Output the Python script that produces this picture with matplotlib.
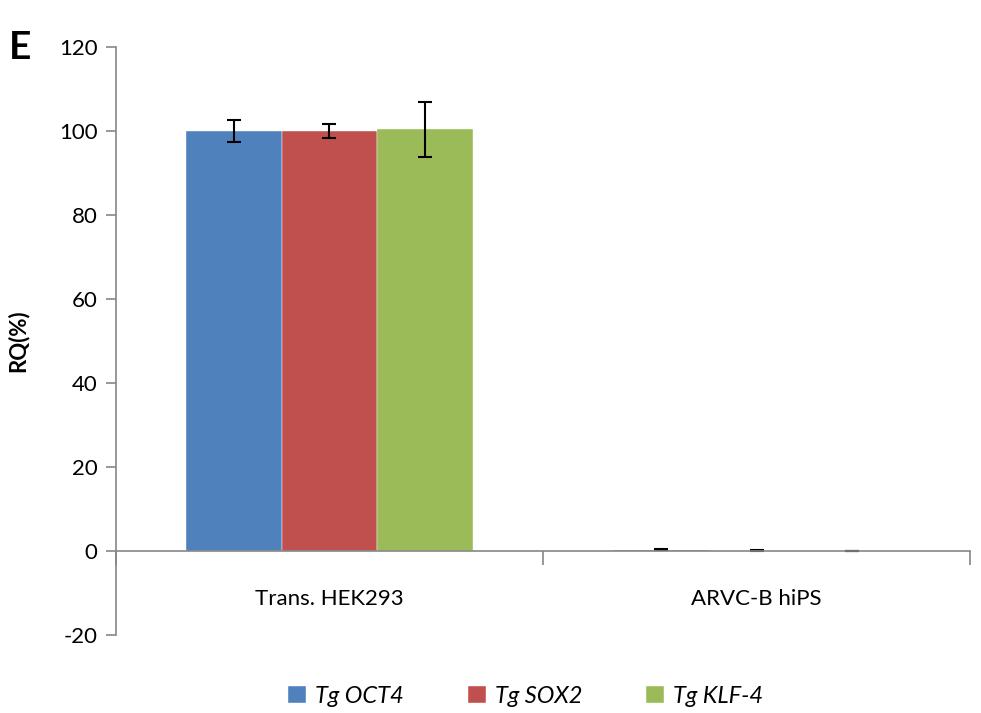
import matplotlib.pyplot as plt
import numpy as np

plt.rcParams['font.family'] = ['Lato', 'DejaVu Sans']
plt.rcParams['axes.unicode_minus'] = False

groups = ['Trans. HEK293', 'ARVC-B hiPS']
genes = ['Tg OCT4', 'Tg SOX2', 'Tg KLF-4']
colors = ['#4f81bd', '#c0504d', '#9bbb59']

oct4 = [100.0, 0.35]
sox2 = [100.0, 0.12]
klf4 = [100.4, 0.05]
oct4_err = [2.6, 0.15]
sox2_err = [1.7, 0.12]
klf4_err = [6.5, 0.05]

values = [oct4, sox2, klf4]
errors = [oct4_err, sox2_err, klf4_err]

fig = plt.figure(figsize=(9.81, 7.13), dpi=100)
ax = fig.add_axes([0.118, 0.109, 0.871, 0.825])

x = np.arange(len(groups))
w = 0.224
for i in range(3):
    ax.bar(x + (i - 1) * w, values[i], w, color=colors[i], label=genes[i],
           edgecolor='white', linewidth=0.3,
           yerr=errors[i], capsize=5,
           error_kw=dict(ecolor='black', elinewidth=1.5, capthick=1.5))

ax.set_xlim(-0.5, 1.5)
ax.set_ylim(-20, 120)
ax.set_yticks(range(-20, 121, 20))
ax.set_ylabel('RQ(%)', fontsize=16, fontweight='bold', labelpad=22)

gray = '#868686'
for s in ['top', 'right']:
    ax.spines[s].set_visible(False)
ax.spines['left'].set_color(gray)
ax.spines['bottom'].set_color(gray)
ax.spines['bottom'].set_position(('data', 0))
ax.spines['left'].set_linewidth(1.2)
ax.spines['bottom'].set_linewidth(1.2)

ax.set_xticks(x)
ax.set_xticklabels(groups, fontsize=16)
ax.set_xticks([-0.5, 0.5, 1.5], minor=True)
ax.tick_params(axis='x', which='major', length=0, pad=27)
ax.tick_params(axis='x', which='minor', length=10, color=gray, width=1.2)
ax.tick_params(axis='y', length=7, color=gray, width=1.2, labelsize=16, pad=6)

ax.text(-0.125, 1.0, 'E', transform=ax.transAxes, fontsize=28, fontweight='bold',
        va='center', ha='left')

leg = ax.legend(loc='upper center', bbox_to_anchor=(0.48, -0.05), ncol=3,
                frameon=False, handlelength=0.75, handleheight=0.75,
                columnspacing=2.7, handletextpad=0.4,
                prop={'size': 17, 'style': 'italic'})

fig.savefig('out.png', dpi=100)
